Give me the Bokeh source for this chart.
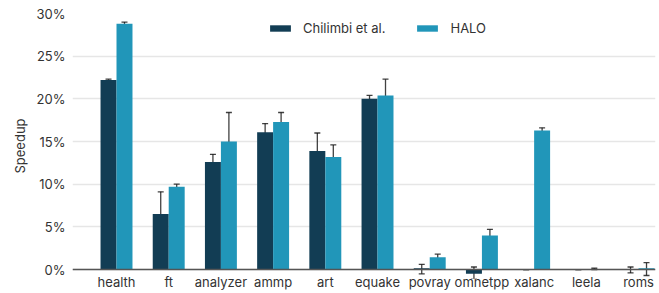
from bokeh.plotting import figure
from bokeh.models import (ColumnDataSource, Whisker, TeeHead, FixedTicker, PrintfTickFormatter,
                          Range1d, Span, Legend, LegendItem)
from bokeh.embed import file_html
from bokeh.resources import INLINE

benchmarks = ["health", "ft", "analyzer", "ammp", "art", "equake", "povray", "omnetpp", "xalanc", "leela", "roms"]
chilimbi = [22.2, 6.5, 12.6, 16.1, 13.9, 20.0, 0.15, -0.5, 0.0, 0.0, 0.05]
chilimbi_lo = [21.7, 4.2, 9.1, 15.7, 12.5, 19.8, -0.5, -1.1, 0.0, 0.0, -0.4]
chilimbi_hi = [22.3, 9.1, 13.5, 17.1, 16.0, 20.4, 0.6, 0.3, 0.0, 0.0, 0.3]
halo = [28.8, 9.7, 15.0, 17.3, 13.2, 20.4, 1.45, 4.0, 16.3, 0.05, 0.15]
halo_lo = [28.2, 9.2, 14.1, 17.1, 12.2, 19.7, 1.25, 3.3, 15.8, 0.0, -0.7]
halo_hi = [29.0, 10.0, 18.4, 18.4, 14.6, 22.3, 1.8, 4.7, 16.6, 0.15, 0.8]
y_ticks = [0, 5, 10, 15, 20, 25, 30]

DARK = "#123d54"
LIGHT = "#2196b9"
FONT = "Inter"
W = 0.306

idx = list(range(len(benchmarks)))
src_c = ColumnDataSource(dict(x=[i - W / 2 for i in idx], top=chilimbi, lo=chilimbi_lo, hi=chilimbi_hi))
src_h = ColumnDataSource(dict(x=[i + W / 2 for i in idx], top=halo, lo=halo_lo, hi=halo_hi))

p = figure(width=659, height=293, output_backend="svg", toolbar_location=None, title=None,
           x_range=Range1d(-0.843, 10.325), y_range=Range1d(-1.05, 30),
           min_border_left=72, min_border_right=4, min_border_top=13, min_border_bottom=15)
p.outline_line_color = None
p.background_fill_color = "white"

r1 = p.vbar(x="x", top="top", bottom=0, width=W, source=src_c, fill_color=DARK, line_color=None)
r2 = p.vbar(x="x", top="top", bottom=0, width=W, source=src_h, fill_color=LIGHT, line_color=None)

for src in (src_c, src_h):
    wk = Whisker(base="x", lower="lo", upper="hi", source=src,
                 line_color="#111111", line_width=1.3, line_alpha=0.8,
                 upper_head=TeeHead(size=6, line_color="#111111", line_width=1.3, line_alpha=0.8),
                 lower_head=TeeHead(size=6, line_color="#111111", line_width=1.3, line_alpha=0.8))
    p.add_layout(wk)

p.add_layout(Span(location=0, dimension="width", line_color="#555555", line_width=1.5))

p.xgrid.grid_line_color = None
p.ygrid.ticker = FixedTicker(ticks=y_ticks)
p.ygrid.grid_line_color = "#e6e6e6"
p.ygrid.grid_line_width = 1.5

p.yaxis.ticker = FixedTicker(ticks=y_ticks)
p.yaxis.formatter = PrintfTickFormatter(format="%d%%")
p.yaxis.axis_line_color = None
p.yaxis.major_tick_line_color = None
p.yaxis.minor_tick_line_color = None
p.yaxis.major_tick_out = 0
p.yaxis.major_label_standoff = 7
p.yaxis.major_label_text_font = FONT
p.yaxis.major_label_text_font_size = "13px"
p.yaxis.major_label_text_color = "#333333"
p.yaxis.axis_label = "Speedup"
p.yaxis.axis_label_text_font = FONT
p.yaxis.axis_label_text_font_size = "13px"
p.yaxis.axis_label_text_font_style = "normal"
p.yaxis.axis_label_text_color = "#333333"
p.yaxis.axis_label_standoff = 6

p.xaxis.ticker = FixedTicker(ticks=idx)
p.xaxis.major_label_overrides = {i: b for i, b in zip(idx, benchmarks)}
p.xaxis.axis_line_color = None
p.xaxis.major_tick_line_color = None
p.xaxis.minor_tick_line_color = None
p.xaxis.major_tick_out = 0
p.xaxis.major_label_standoff = -5
p.xaxis.major_label_text_font = FONT
p.xaxis.major_label_text_font_size = "13px"
p.xaxis.major_label_text_color = "#333333"

legend = Legend(items=[LegendItem(label="Chilimbi et al.", renderers=[r1]),
                       LegendItem(label="HALO", renderers=[r2])],
                orientation="horizontal", location=(195, 242),
                glyph_width=26, glyph_height=8, label_standoff=10, spacing=29,
                padding=0, margin=0, border_line_color=None, background_fill_alpha=0,
                label_text_font=FONT, label_text_font_size="13px", label_text_color="#333333")
p.add_layout(legend)

open("out.html", "w").write(file_html(p, INLINE))
